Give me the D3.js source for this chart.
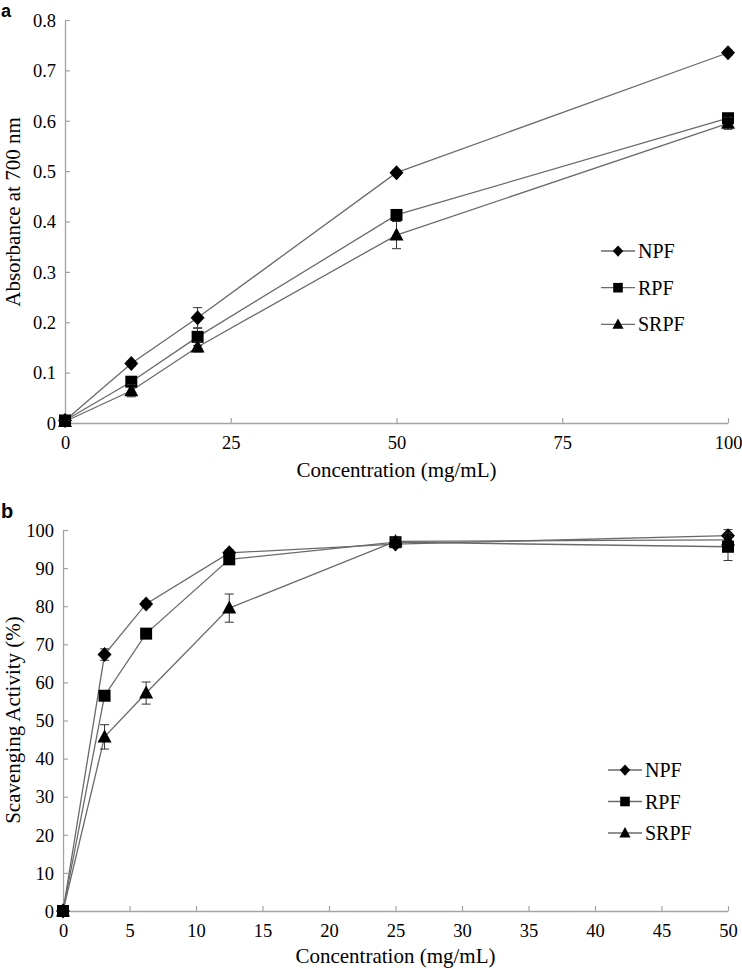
<!DOCTYPE html>
<html><head><meta charset="utf-8">
<script src="https://cdn.jsdelivr.net/npm/d3@7"></script>
<style>
body{margin:0;background:#fff;}
svg{display:block;}
text{font-family:"Liberation Serif","Times New Roman",serif;fill:#000;}
</style></head>
<body>
<svg id="c" width="742" height="969"></svg>
<script>
// ---------- Data ----------
const seriesNames = ["NPF", "RPF", "SRPF"];
const markerKinds = ["diamond", "square", "triangle"];

// Panel a: reducing power
const concA = [0, 10, 20, 50, 100];
const npfA = [0.005, 0.118, 0.209, 0.497, 0.735];
const rpfA = [0.005, 0.082, 0.171, 0.413, 0.605];
const srpfA = [0.003, 0.064, 0.151, 0.373, 0.595];
const npfAErr = [0.002, 0.005, 0.020, 0.005, 0.005];
const rpfAErr = [0.002, 0.006, 0.017, 0.006, 0.005];
const srpfAErr = [0.002, 0.012, 0.010, 0.027, 0.012];
const xTicksA = [0, 25, 50, 75, 100];
const yTicksA = [0, 0.1, 0.2, 0.3, 0.4, 0.5, 0.6, 0.7, 0.8];

// Panel b: scavenging activity
const concB = [0, 3.125, 6.25, 12.5, 25, 50];
const npfB = [0, 67.3, 80.6, 94.0, 96.3, 98.5];
const rpfB = [0, 56.5, 72.8, 92.3, 96.8, 95.6];
const srpfB = [0, 45.7, 57.2, 79.5, 97.0, 97.4];
const npfBErr = [0, 1.5, 0.8, 0.8, 0.8, 1.6];
const rpfBErr = [0, 0.8, 0.8, 0.8, 0.8, 3.6];
const srpfBErr = [0, 3.2, 2.9, 3.7, 0.8, 1.0];
const xTicksB = [0, 5, 10, 15, 20, 25, 30, 35, 40, 45, 50];
const yTicksB = [0, 10, 20, 30, 40, 50, 60, 70, 80, 90, 100];

// ---------- Drawing ----------
const svg = d3.select("#c");
const axisColor = "#a3a3a3";
const lineColor = "#6a6a6a";

function markerPath(kind) {
  if (kind === "diamond") return "M0,-7.5L7,0L0,7.5L-7,0Z";
  if (kind === "square") return "M-6,-6H6V6H-6Z";
  return "M0,-7.5L7,5.5L-7,5.5Z";
}

function panel(cfg) {
  const g = svg.append("g");
  const x = d3.scaleLinear().domain(cfg.xDomain).range(cfg.xRange);
  const y = d3.scaleLinear().domain(cfg.yDomain).range(cfg.yRange);

  // axes
  const xAxis = d3.axisBottom(x).tickValues(cfg.xTicks).tickSizeInner(-5).tickSizeOuter(0).tickPadding(13).tickFormat(d3.format("d"));
  const yAxis = d3.axisLeft(y).tickValues(cfg.yTicks).tickSizeInner(-5).tickSizeOuter(0).tickPadding(9).tickFormat(cfg.yFormat);
  const gx = g.append("g").attr("transform", `translate(0,${cfg.yRange[0]})`).call(xAxis);
  const gy = g.append("g").attr("transform", `translate(${cfg.xRange[0]},0)`).call(yAxis);
  [gx, gy].forEach(a => {
    a.selectAll("path.domain").attr("stroke", axisColor).attr("stroke-width", 1.3);
    a.selectAll(".tick line").attr("stroke", axisColor).attr("stroke-width", 1.2);
    a.selectAll(".tick text").style("font-family", '"Liberation Serif",serif').style("font-size", "18.5px").attr("fill", "#000");
  });
  gy.selectAll(".tick text").attr("dy", "0.34em");
  gx.selectAll(".tick text").attr("dy", "0.71em");

  // series lines
  const line = d3.line().x(d => x(d[0])).y(d => y(d[1]));
  cfg.series.forEach((s, i) => {
    const pts = cfg.xs.map((v, j) => [v, s.vals[j], s.err[j]]);
    g.append("path").datum(pts).attr("d", line).attr("fill", "none")
      .attr("stroke", lineColor).attr("stroke-width", 1.3);
  });
  // error bars + markers
  cfg.series.forEach((s, i) => {
    const pts = cfg.xs.map((v, j) => [v, s.vals[j], s.err[j]]);
    const eb = g.append("g");
    pts.forEach(p => {
      if (!p[2]) return;
      const cx = x(p[0]), y0 = y(p[1] - p[2]), y1 = y(p[1] + p[2]);
      eb.append("line").attr("x1", cx).attr("x2", cx).attr("y1", y0).attr("y2", y1).attr("stroke", "#333").attr("stroke-width", 1);
      [y0, y1].forEach(yy => eb.append("line").attr("x1", cx - 4.5).attr("x2", cx + 4.5).attr("y1", yy).attr("y2", yy).attr("stroke", "#333").attr("stroke-width", 1));
    });
    g.append("g").selectAll("path").data(pts).join("path")
      .attr("transform", d => `translate(${x(d[0])},${y(d[1])})`)
      .attr("d", markerPath(markerKinds[i])).attr("fill", "#000");
  });

  // legend
  const lg = g.append("g").attr("transform", `translate(${cfg.legend[0]},${cfg.legend[1]})`);
  seriesNames.forEach((n, i) => {
    const r = lg.append("g").attr("transform", `translate(0,${i * cfg.legendGap})`);
    r.append("line").attr("x1", 0).attr("x2", 34).attr("stroke", lineColor).attr("stroke-width", 1.3);
    const sc = markerKinds[i] === "diamond" ? 0.75 : 0.8;
    r.append("path").attr("transform", `translate(17,0) scale(${sc})`).attr("d", markerPath(markerKinds[i])).attr("fill", "#000");
    r.append("text").attr("x", 37).attr("y", 0).attr("dy", "0.35em").style("font-size", "20px").text(n);
  });

  // titles
  g.append("text").attr("x", (cfg.xRange[0] + cfg.xRange[1]) / 2).attr("y", cfg.xTitleY)
    .attr("text-anchor", "middle").style("font-size", "21px").text(cfg.xTitle);
  g.append("text").attr("transform", `translate(${cfg.yTitleX},${cfg.yTitleY}) rotate(-90)`)
    .attr("text-anchor", "middle").style("font-size", "21px").text(cfg.yTitle);
  g.append("text").attr("x", cfg.letter[0]).attr("y", cfg.letter[1])
    .style("font-family", '"Liberation Sans",Arial,sans-serif').style("font-weight", "bold").style("font-size", cfg.letterSize).text(cfg.letterText);
}

panel({
  xDomain: [0, 100], xRange: [65, 728], yDomain: [0, 0.8], yRange: [423, 20],
  xTicks: xTicksA, yTicks: yTicksA, yFormat: d => d === 0 ? "0" : d3.format(".1f")(d),
  xs: concA,
  series: [{vals: npfA, err: npfAErr}, {vals: rpfA, err: rpfAErr}, {vals: srpfA, err: srpfAErr}],
  legend: [601, 251], legendGap: 36.7,
  xTitle: "Concentration (mg/mL)", xTitleY: 477,
  yTitle: "Absorbance at 700 nm", yTitleX: 20, yTitleY: 212,
  letter: [1, 17], letterText: "a", letterSize: "18px"
});

panel({
  xDomain: [0, 50], xRange: [63, 728], yDomain: [0, 100], yRange: [911, 530],
  xTicks: xTicksB, yTicks: yTicksB, yFormat: d3.format("d"),
  xs: concB,
  series: [{vals: npfB, err: npfBErr}, {vals: rpfB, err: rpfBErr}, {vals: srpfB, err: srpfBErr}],
  legend: [608, 770], legendGap: 31.5,
  xTitle: "Concentration (mg/mL)", xTitleY: 963,
  yTitle: "Scavenging Activity (%)", yTitleX: 20, yTitleY: 720,
  letter: [1, 518], letterText: "b", letterSize: "20px"
});
</script>
</body></html>
